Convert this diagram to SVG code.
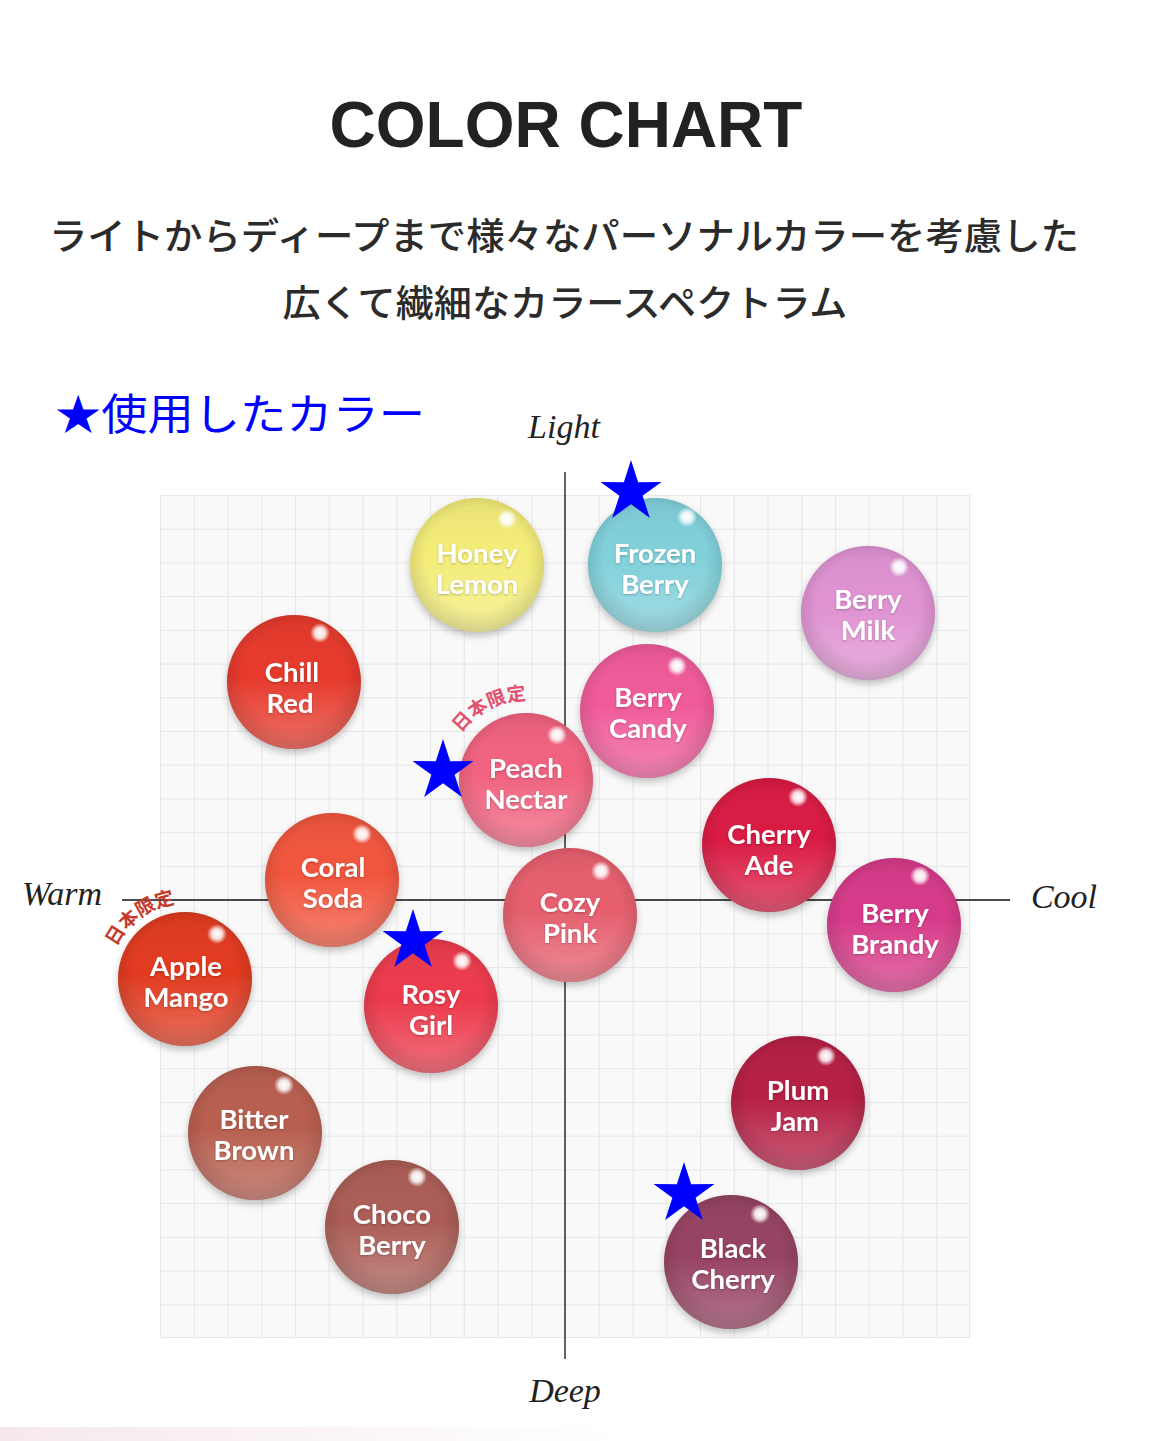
<svg xmlns="http://www.w3.org/2000/svg" width="1153" height="1441" viewBox="0 0 1153 1441">
<style>
.title{font-family:"Liberation Sans","Noto Sans",Arial,sans-serif;font-weight:700;font-size:64px;fill:#222;text-anchor:middle}
.sub{font-family:"Noto Sans CJK JP","Noto Sans",sans-serif;font-weight:500;font-size:37px;fill:#2b2b2b;text-anchor:middle}
.used{font-family:"Noto Sans CJK JP","Noto Sans",sans-serif;font-size:43px;fill:#0000ff}
.axis-label{font-family:"Liberation Serif","Times New Roman",serif;font-style:italic;font-size:34px;fill:#222;text-anchor:middle}
.axis{stroke:#111;stroke-width:1.3;fill:none}
.lbl{font-family:Lato,"Liberation Sans",Arial,sans-serif;font-weight:700;font-size:27.5px;fill:#fff;text-anchor:middle;filter:url(#tshadow)}
.shine{fill:url(#shine)}
.rim{fill:url(#rim)}
.hl{fill:url(#hl)}
.shadow{fill:#000;opacity:.28;filter:url(#blur)}
.jp{font-family:"Noto Sans CJK JP",sans-serif;font-weight:700;font-size:19px}
.star{fill:#0000ff}
</style>
<defs>
<pattern id="grid" patternUnits="userSpaceOnUse" x="160" y="495" width="33.75" height="33.72">
<rect width="33.75" height="33.72" fill="#f9f9f9"/>
<path d="M0 0.5H33.75M0.5 0V33.72" stroke="#e6e6e6" stroke-width="1" fill="none"/>
</pattern>
<linearGradient id="shine" x1="0" y1="0" x2="0" y2="1">
<stop offset="0" stop-color="#000" stop-opacity="0.06"/>
<stop offset="0.45" stop-color="#fff" stop-opacity="0"/>
<stop offset="1" stop-color="#fff" stop-opacity="0.28"/>
</linearGradient>
<radialGradient id="rim" cx="0.5" cy="0.45" r="0.55">
<stop offset="0.7" stop-color="#000" stop-opacity="0"/>
<stop offset="1" stop-color="#000" stop-opacity="0.14"/>
</radialGradient>
<radialGradient id="hl">
<stop offset="0" stop-color="#fff" stop-opacity="1"/>
<stop offset="0.5" stop-color="#fff" stop-opacity="0.85"/>
<stop offset="1" stop-color="#fff" stop-opacity="0"/>
</radialGradient>
<linearGradient id="band" x1="0" y1="0" x2="1" y2="0">
<stop offset="0" stop-color="#f4e6ea" stop-opacity="0.9"/>
<stop offset="1" stop-color="#f4e6ea" stop-opacity="0"/>
</linearGradient>
<filter id="blur" x="-20%" y="-20%" width="140%" height="140%"><feGaussianBlur stdDeviation="4"/></filter>
<filter id="tshadow" x="-10%" y="-20%" width="120%" height="140%"><feDropShadow dx="0" dy="1" stdDeviation="1" flood-color="#000" flood-opacity="0.25"/></filter>
<polygon id="star" points="0,-32 7.17,-9.87 30.43,-9.89 11.6,3.77 18.81,25.89 0,12.2 -18.81,25.89 -11.6,3.77 -30.43,-9.89 -7.17,-9.87"/>
<path id="arc-peach" d="M448.1 762 A80 80 0 0 1 557.3 706.4"/>
<path id="arc-apple" d="M109 978 A77 77 0 0 1 207 906"/>
</defs>

<rect width="1153" height="1441" fill="#fff"/>
<rect x="0" y="1427" width="620" height="14" fill="url(#band)"/>

<g id="header">
<text class="title" x="566" y="147">COLOR CHART</text>
<text class="sub" x="564" y="250" textLength="1030" lengthAdjust="spacingAndGlyphs">ライトからディープまで様々なパーソナルカラーを考慮した</text>
<text class="sub" x="565" y="317" textLength="565" lengthAdjust="spacingAndGlyphs">広くて繊細なカラースペクトラム</text>
<text class="used" x="55" y="430" textLength="370" lengthAdjust="spacingAndGlyphs">★使用したカラー</text>
</g>

<rect id="grid-bg" x="160" y="495" width="810" height="843" fill="url(#grid)"/>
<rect x="160.5" y="495.5" width="809" height="842" fill="none" stroke="#e8e8e8"/>

<g id="axes">
<line class="axis" x1="565" y1="472" x2="565" y2="1359"/>
<line class="axis" x1="122" y1="900" x2="1010" y2="900"/>
<text class="axis-label" x="564" y="438">Light</text>
<text class="axis-label" x="565" y="1402">Deep</text>
<text class="axis-label" x="62" y="905">Warm</text>
<text class="axis-label" x="1064" y="908">Cool</text>
</g>

<g id="honey-lemon">
<circle class="shadow" cx="477" cy="569" r="66"/>
<circle cx="477" cy="565" r="67" fill="#f3ec78"/>
<circle class="shine" cx="477" cy="565" r="67"/>
<circle class="rim" cx="477" cy="565" r="67"/>
<circle class="hl" cx="507" cy="519" r="10"/>
<text class="lbl"><tspan x="477" y="563">Honey</tspan><tspan x="477" y="594">Lemon</tspan></text>
</g>

<g id="frozen-berry">
<circle class="shadow" cx="655" cy="569" r="66"/>
<circle cx="655" cy="565" r="67" fill="#80d0da"/>
<circle class="shine" cx="655" cy="565" r="67"/>
<circle class="rim" cx="655" cy="565" r="67"/>
<circle class="hl" cx="687" cy="517" r="10"/>
<text class="lbl"><tspan x="655" y="563">Frozen</tspan><tspan x="655" y="594">Berry</tspan></text>
</g>

<g id="berry-milk">
<circle class="shadow" cx="868" cy="617" r="66"/>
<circle cx="868" cy="613" r="67" fill="#df92d2"/>
<circle class="shine" cx="868" cy="613" r="67"/>
<circle class="rim" cx="868" cy="613" r="67"/>
<circle class="hl" cx="899" cy="567" r="10"/>
<text class="lbl"><tspan x="868" y="609">Berry</tspan><tspan x="868" y="640">Milk</tspan></text>
</g>

<g id="chill-red">
<circle class="shadow" cx="294" cy="686" r="66"/>
<circle cx="294" cy="682" r="67" fill="#e6392b"/>
<circle class="shine" cx="294" cy="682" r="67"/>
<circle class="rim" cx="294" cy="682" r="67"/>
<circle class="hl" cx="320" cy="633" r="10"/>
<text class="lbl"><tspan x="292" y="682">Chill</tspan><tspan x="290" y="713">Red</tspan></text>
</g>

<g id="berry-candy">
<circle class="shadow" cx="647" cy="715" r="66"/>
<circle cx="647" cy="711" r="67" fill="#f05a99"/>
<circle class="shine" cx="647" cy="711" r="67"/>
<circle class="rim" cx="647" cy="711" r="67"/>
<circle class="hl" cx="677" cy="666" r="10"/>
<text class="lbl"><tspan x="648" y="707">Berry</tspan><tspan x="648" y="738">Candy</tspan></text>
</g>

<g id="peach-nectar">
<circle class="shadow" cx="526" cy="784" r="66"/>
<circle cx="526" cy="780" r="67" fill="#f1627f"/>
<circle class="shine" cx="526" cy="780" r="67"/>
<circle class="rim" cx="526" cy="780" r="67"/>
<circle class="hl" cx="557" cy="735" r="10"/>
<text class="lbl"><tspan x="526" y="778">Peach</tspan><tspan x="526" y="809">Nectar</tspan></text>
<text class="jp" fill="#e2506f"><textPath href="#arc-peach" startOffset="50%" text-anchor="middle">日本限定</textPath></text>
</g>

<g id="cherry-ade">
<circle class="shadow" cx="769" cy="849" r="66"/>
<circle cx="769" cy="845" r="67" fill="#da1a43"/>
<circle class="shine" cx="769" cy="845" r="67"/>
<circle class="rim" cx="769" cy="845" r="67"/>
<circle class="hl" cx="798" cy="797" r="10"/>
<text class="lbl"><tspan x="769" y="844">Cherry</tspan><tspan x="769" y="875">Ade</tspan></text>
</g>

<g id="coral-soda">
<circle class="shadow" cx="332" cy="884" r="66"/>
<circle cx="332" cy="880" r="67" fill="#f1553d"/>
<circle class="shine" cx="332" cy="880" r="67"/>
<circle class="rim" cx="332" cy="880" r="67"/>
<circle class="hl" cx="362" cy="834" r="10"/>
<text class="lbl"><tspan x="333" y="877">Coral</tspan><tspan x="333" y="908">Soda</tspan></text>
</g>

<g id="cozy-pink">
<circle class="shadow" cx="570" cy="919" r="66"/>
<circle cx="570" cy="915" r="67" fill="#e65e6d"/>
<circle class="shine" cx="570" cy="915" r="67"/>
<circle class="rim" cx="570" cy="915" r="67"/>
<circle class="hl" cx="601" cy="871" r="10"/>
<text class="lbl"><tspan x="570" y="912">Cozy</tspan><tspan x="570" y="943">Pink</tspan></text>
</g>

<g id="berry-brandy">
<circle class="shadow" cx="894" cy="929" r="66"/>
<circle cx="894" cy="925" r="67" fill="#d73a89"/>
<circle class="shine" cx="894" cy="925" r="67"/>
<circle class="rim" cx="894" cy="925" r="67"/>
<circle class="hl" cx="920" cy="876" r="10"/>
<text class="lbl"><tspan x="895" y="923">Berry</tspan><tspan x="895" y="954">Brandy</tspan></text>
</g>

<g id="apple-mango">
<circle class="shadow" cx="185" cy="983" r="66"/>
<circle cx="185" cy="979" r="67" fill="#e13a1f"/>
<circle class="shine" cx="185" cy="979" r="67"/>
<circle class="rim" cx="185" cy="979" r="67"/>
<circle class="hl" cx="217" cy="934" r="10"/>
<text class="lbl"><tspan x="186" y="976">Apple</tspan><tspan x="186" y="1007">Mango</tspan></text>
<text class="jp" fill="#c53a2b"><textPath href="#arc-apple" startOffset="50%" text-anchor="middle">日本限定</textPath></text>
</g>

<g id="rosy-girl">
<circle class="shadow" cx="431" cy="1010" r="66"/>
<circle cx="431" cy="1006" r="67" fill="#ec3a4c"/>
<circle class="shine" cx="431" cy="1006" r="67"/>
<circle class="rim" cx="431" cy="1006" r="67"/>
<circle class="hl" cx="462" cy="961" r="10"/>
<text class="lbl"><tspan x="431" y="1004">Rosy</tspan><tspan x="431" y="1035">Girl</tspan></text>
</g>

<g id="plum-jam">
<circle class="shadow" cx="798" cy="1107" r="66"/>
<circle cx="798" cy="1103" r="67" fill="#b61f44"/>
<circle class="shine" cx="798" cy="1103" r="67"/>
<circle class="rim" cx="798" cy="1103" r="67"/>
<circle class="hl" cx="826" cy="1056" r="10"/>
<text class="lbl"><tspan x="798" y="1100">Plum</tspan><tspan x="795" y="1131">Jam</tspan></text>
</g>

<g id="bitter-brown">
<circle class="shadow" cx="255" cy="1137" r="66"/>
<circle cx="255" cy="1133" r="67" fill="#b85e4e"/>
<circle class="shine" cx="255" cy="1133" r="67"/>
<circle class="rim" cx="255" cy="1133" r="67"/>
<circle class="hl" cx="284" cy="1085" r="10"/>
<text class="lbl"><tspan x="254" y="1129">Bitter</tspan><tspan x="254" y="1160">Brown</tspan></text>
</g>

<g id="choco-berry">
<circle class="shadow" cx="392" cy="1231" r="66"/>
<circle cx="392" cy="1227" r="67" fill="#ab5d56"/>
<circle class="shine" cx="392" cy="1227" r="67"/>
<circle class="rim" cx="392" cy="1227" r="67"/>
<circle class="hl" cx="417" cy="1177" r="10"/>
<text class="lbl"><tspan x="392" y="1224">Choco</tspan><tspan x="392" y="1255">Berry</tspan></text>
</g>

<g id="black-cherry">
<circle class="shadow" cx="731" cy="1266" r="66"/>
<circle cx="731" cy="1262" r="67" fill="#964262"/>
<circle class="shine" cx="731" cy="1262" r="67"/>
<circle class="rim" cx="731" cy="1262" r="67"/>
<circle class="hl" cx="760" cy="1214" r="10"/>
<text class="lbl"><tspan x="733" y="1258">Black</tspan><tspan x="733" y="1289">Cherry</tspan></text>
</g>

<g id="stars">
<use href="#star" class="star" x="631" y="492"/>
<use href="#star" class="star" x="443" y="771"/>
<use href="#star" class="star" x="413" y="941"/>
<use href="#star" class="star" x="684" y="1194"/>
</g>
</svg>
